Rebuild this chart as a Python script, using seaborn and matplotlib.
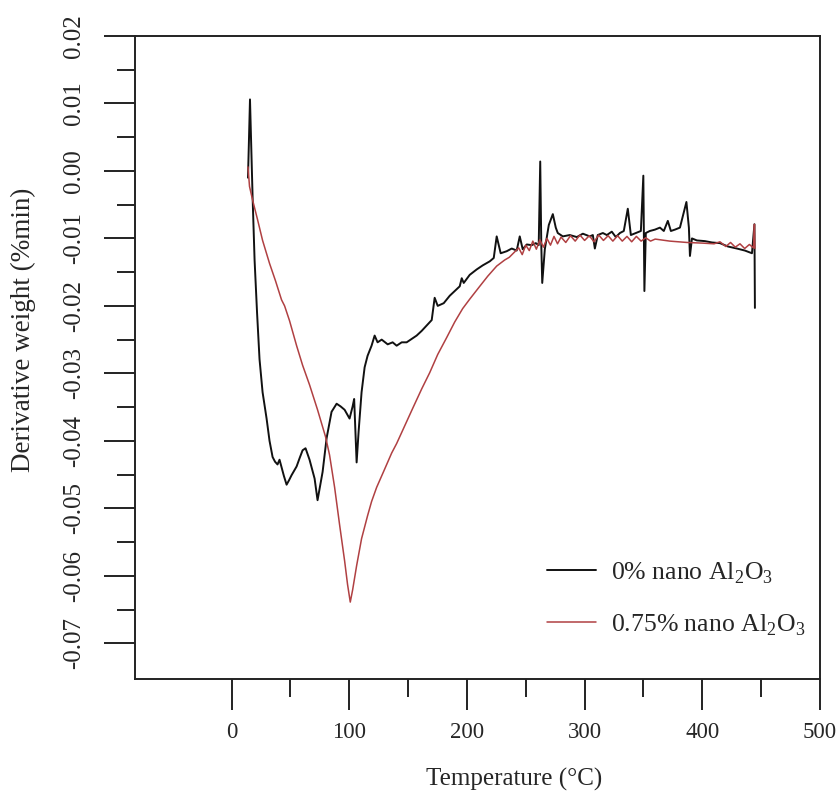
import matplotlib
matplotlib.use("Agg")
import matplotlib.pyplot as plt
import seaborn as sns
import pandas as pd
from matplotlib.ticker import FixedLocator, FuncFormatter

# ---------------- data ----------------
temp_0 = [14.0, 15.7, 17.0, 17.9, 19.6, 21.7, 23.8, 26.4, 29.8, 32.3, 34.9, 37.0,
          39.1, 40.8, 42.5, 44.5, 46.8, 49.0, 51.0, 55.3, 58.0, 60.4, 62.9, 66.3,
          70.6, 73.1, 75.7, 77.4, 80.8, 85.0, 89.3, 92.7, 96.1, 100.3, 102.9, 104.2,
          106.3, 108.0, 110.5, 113.1, 115.6, 119.0, 121.6, 124.1, 127.6, 132.7, 136.9, 140.3,
          144.6, 148.8, 153.1, 157.3, 161.6, 165.8, 170.1, 172.6, 175.2, 180.3, 185.4, 189.6,
          193.9, 195.6, 197.3, 202.4, 208.3, 213.4, 219.4, 222.8, 225.3, 228.7, 233.8, 238.1,
          242.3, 244.9, 247.4, 250.9, 255.1, 258.5, 261.0, 262.3, 263.2, 264.0, 266.2, 269.6,
          273.0, 275.5, 277.2, 281.5, 287.4, 293.4, 298.5, 304.4, 307.0, 308.7, 311.2, 315.5,
          318.9, 323.1, 326.5, 330.0, 333.3, 336.7, 339.3, 343.5, 347.8, 349.9, 350.8, 352.0,
          355.4, 359.7, 364.0, 367.3, 370.7, 373.3, 376.7, 381.0, 386.5, 388.6, 389.5, 391.2,
          395.4, 402.2, 408.2, 415.0, 421.8, 429.4, 436.2, 442.2, 444.3, 444.7]
dw_0 = [-0.0010, 0.0106, 0.0022, -0.0038, -0.0132, -0.0210, -0.0279, -0.0328, -0.0367, -0.0400, -0.0424, -0.0431,
        -0.0435, -0.0428, -0.0439, -0.0452, -0.0465, -0.0458, -0.0451, -0.0438, -0.0425, -0.0414, -0.0411, -0.0428,
        -0.0456, -0.0488, -0.0463, -0.0446, -0.0396, -0.0357, -0.0345, -0.0349, -0.0354, -0.0367, -0.0349, -0.0338,
        -0.0432, -0.0386, -0.0328, -0.0291, -0.0274, -0.0259, -0.0244, -0.0254, -0.0250, -0.0257, -0.0254, -0.0259,
        -0.0254, -0.0254, -0.0249, -0.0244, -0.0237, -0.0229, -0.0221, -0.0188, -0.0200, -0.0196, -0.0185, -0.0178,
        -0.0171, -0.0159, -0.0166, -0.0154, -0.0146, -0.0140, -0.0134, -0.0129, -0.0097, -0.0122, -0.0119, -0.0115,
        -0.0118, -0.0097, -0.0116, -0.0109, -0.0110, -0.0107, -0.0110, 0.0014, -0.0110, -0.0166, -0.0116, -0.0080,
        -0.0064, -0.0084, -0.0092, -0.0097, -0.0095, -0.0098, -0.0093, -0.0097, -0.0095, -0.0115, -0.0095, -0.0092,
        -0.0095, -0.0090, -0.0098, -0.0092, -0.0089, -0.0056, -0.0095, -0.0092, -0.0089, -0.0007, -0.0178, -0.0092,
        -0.0089, -0.0087, -0.0084, -0.0089, -0.0074, -0.0089, -0.0087, -0.0084, -0.0046, -0.0084, -0.0126, -0.0100,
        -0.0103, -0.0104, -0.0106, -0.0107, -0.0112, -0.0115, -0.0118, -0.0122, -0.0079, -0.0203]

temp_075 = [14.0, 15.3, 17.9, 22.1, 26.4, 32.3, 37.4, 42.5, 45.1, 49.3, 55.3, 60.4,
            66.3, 73.1, 79.9, 83.3, 87.6, 91.8, 96.1, 98.6, 100.9, 102.9, 106.3, 110.5,
            115.6, 119.0, 123.3, 130.1, 136.1, 140.3, 147.1, 153.9, 161.6, 168.4, 175.2, 182.8,
            189.6, 196.4, 202.4, 210.9, 217.7, 225.3, 232.1, 236.0, 240.0, 244.0, 247.0, 250.0,
            253.0, 256.0, 259.0, 262.0, 265.0, 268.0, 271.0, 274.0, 277.0, 280.0, 284.0, 288.0,
            292.0, 296.0, 300.0, 304.0, 308.0, 312.0, 316.0, 320.0, 324.0, 328.0, 332.0, 336.0,
            340.0, 344.0, 348.0, 352.0, 356.0, 360.0, 372.4, 386.9, 400.5, 410.0, 415.0, 420.0,
            424.0, 428.0, 432.0, 436.0, 440.0, 443.5, 444.3, 444.7]
dw_075 = [0.0006, -0.0023, -0.0043, -0.0072, -0.0103, -0.0137, -0.0163, -0.0191, -0.0200, -0.0222, -0.0259, -0.0288,
          -0.0317, -0.0354, -0.0394, -0.0421, -0.0469, -0.0524, -0.0578, -0.0613, -0.0639, -0.0621, -0.0585, -0.0545,
          -0.0511, -0.0490, -0.0469, -0.0442, -0.0418, -0.0404, -0.0378, -0.0352, -0.0323, -0.0299, -0.0272, -0.0247,
          -0.0224, -0.0204, -0.0190, -0.0171, -0.0156, -0.0141, -0.0132, -0.0128, -0.0121, -0.0114, -0.0124, -0.0110,
          -0.0118, -0.0104, -0.0116, -0.0102, -0.0113, -0.0100, -0.0110, -0.0097, -0.0108, -0.0098, -0.0106, -0.0096,
          -0.0104, -0.0095, -0.0103, -0.0096, -0.0105, -0.0095, -0.0103, -0.0096, -0.0104, -0.0096, -0.0104, -0.0097,
          -0.0105, -0.0097, -0.0104, -0.0099, -0.0104, -0.0101, -0.0104, -0.0106, -0.0107, -0.0108, -0.0105, -0.0112,
          -0.0106, -0.0113, -0.0108, -0.0115, -0.0109, -0.0114, -0.0079, -0.0115]

series_labels = ["0% nano Al$_\\mathregular{2}$O$_\\mathregular{3}$",
                 "0.75% nano Al$_\\mathregular{2}$O$_\\mathregular{3}$"]
series_colors = ["#111111", "#b04042"]

x_label = "Temperature (°C)"
y_label = "Derivative weight (%min)"
x_ticks = [0, 100, 200, 300, 400, 500]
x_minor = [50, 150, 250, 350, 450]
y_ticks = [0.02, 0.01, 0.00, -0.01, -0.02, -0.03, -0.04, -0.05, -0.06, -0.07]
y_minor = [0.015, 0.005, -0.005, -0.015, -0.025, -0.035, -0.045, -0.055, -0.065]

assert len(temp_0) == len(dw_0) and len(temp_075) == len(dw_075)

# ---------------- style ----------------
sns.set_style("ticks")
plt.rcParams["font.family"] = ["Liberation Serif", "DejaVu Serif"]
plt.rcParams["mathtext.fontset"] = "custom"
plt.rcParams["mathtext.rm"] = "Liberation Serif"

fig = plt.figure(figsize=(8.36, 7.92), dpi=100)
ax = fig.add_axes([135 / 836, 1 - 679 / 792, (820 - 135) / 836, (679 - 36) / 792])

df0 = pd.DataFrame({"T": temp_0, "DW": dw_0})
df1 = pd.DataFrame({"T": temp_075, "DW": dw_075})
sns.lineplot(data=df0, x="T", y="DW", sort=False, estimator=None, color=series_colors[0],
             lw=1.4, ax=ax, label=series_labels[0])
sns.lineplot(data=df1, x="T", y="DW", sort=False, estimator=None, color=series_colors[1],
             lw=1.1, ax=ax, label=series_labels[1])

ax.set_xlim(-82, 500)
ax.set_ylim(-0.0753, 0.02)
ax.set_xticks(x_ticks)
ax.set_yticks(y_ticks)
ax.xaxis.set_minor_locator(FixedLocator(x_minor))
ax.yaxis.set_minor_locator(FixedLocator(y_minor))
ax.yaxis.set_major_formatter(FuncFormatter(lambda v, p: f"{round(v, 2) + 0.0:.2f}"))
ax.xaxis.set_major_formatter(FuncFormatter(lambda v, p: f"{int(round(v))}"))

ax.tick_params(which="major", direction="out", length=22, width=1.4, color="#222222")
ax.tick_params(which="minor", direction="out", length=13, width=1.4, color="#222222")
ax.tick_params(axis="x", which="major", labelsize=16.5, pad=9)
ax.tick_params(axis="y", which="major", labelsize=18, pad=14, labelrotation=90)
for lab in ax.get_yticklabels():
    lab.set_va("center")
for s in ax.spines.values():
    s.set_visible(True)
    s.set_linewidth(1.4)
    s.set_color("#222222")

ax.set_xlabel(x_label, fontsize=18)
ax.set_ylabel(y_label, fontsize=19.5)
ax.xaxis.set_label_coords((514 - 135) / 685, -(768 - 679) / 643)
ax.yaxis.set_label_coords(-(135 - 36) / 685, (679 - 330) / 643)

ax.legend(loc="upper left", bbox_to_anchor=(547 / 836, 1 - 560 / 792),
          bbox_transform=fig.transFigure, frameon=False, fontsize=18.5,
          handlelength=1.9, handletextpad=0.6, labelspacing=1.05,
          borderpad=0, borderaxespad=0)

fig.savefig("out.png", dpi=100)
